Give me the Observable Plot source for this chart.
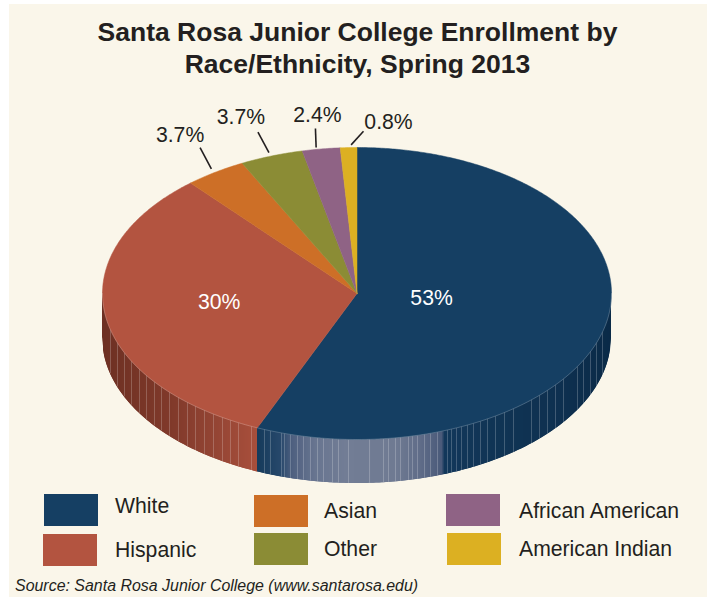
<!DOCTYPE html>
<html>
<head>
<meta charset="utf-8">
<script src="https://cdn.jsdelivr.net/npm/d3@7"></script>
<script src="https://cdn.jsdelivr.net/npm/@observablehq/plot@0.6"></script>
<style>
  html, body { margin: 0; padding: 0; background: #fff; width: 707px; height: 597px; overflow: hidden; }
  #card { position: absolute; left: 9px; top: 4px; width: 698px; height: 593px; background: #faf6ea; }
  #page { position: absolute; left: 0; top: 0; width: 707px; height: 597px; font-family: "Liberation Sans", Arial, sans-serif; color: #231f20; }
  h1 { position: absolute; left: 0; top: 16px; width: 715px; margin: 0; text-align: center; font-size: 26.5px; line-height: 32px; font-weight: bold; }
  #chart { position: absolute; left: 0; top: 85px; }
  #chart svg { display: block; background: transparent; }
  .swatch { position: absolute; width: 54px; height: 32px; }
  .label { position: absolute; font-size: 21.2px; line-height: 24px; white-space: nowrap; }
  #source { position: absolute; left: 15px; top: 576px; font-size: 15.95px; line-height: 20px; font-style: italic; white-space: nowrap; }
</style>
</head>
<body>
<div id="card"></div>
<div id="page">
  <h1>Santa Rosa Junior College Enrollment by<br>Race/Ethnicity, Spring 2013</h1>
  <div id="chart"></div>
  <div id="source">Source: Santa Rosa Junior College (www.santarosa.edu)</div>
</div>
<script>
// ---- data ----
const categories = ["White", "Hispanic", "Asian", "Other", "African American", "American Indian"];
const shareLabels = ["53%", "30%", "3.7%", "3.7%", "2.4%", "0.8%"];
// The slices as they are drawn: share of the full turn, measured on the picture.
const drawnShares = [56.4, 32.25, 3.9, 4.0, 2.4, 1.05];
const colors = ["#153f63", "#b35440", "#cd6f27", "#8b8c35", "#8f6385", "#dcb022"];

// ---- legend layout (left, top of swatch, left, top of text) ----
const legendLayout = [
  [44, 494, 115, 494], [43, 534, 115, 538], [254, 495, 324, 499],
  [254, 533, 324, 537], [446, 494, 519, 499], [447, 533, 519, 537]
];

// ---- style of the extruded wall, by page x ----
const redWallStops = [[102, "#6d3023"], [170, "#80392a"], [220, "#964635"], [258, "#a94f3c"]];
const blueWallStops = [
  [258, "#163b5c"], [280, "#27486b"], [292, "#4f6080"], [315, "#687590"], [345, "#727d95"],
  [395, "#6f7a92"], [420, "#5f6c88"], [441, "#4a5a7a"], [444, "#12375a"], [500, "#103454"], [560, "#0e3050"], [611, "#0a2a47"]
];
const ribsAt = [110, 117, 124, 131, 139, 146, 154, 161, 169, 178, 187, 195, 204, 213, 222, 230, 238, 251,
  264, 270, 281, 284, 290, 297, 303, 310, 317, 323, 332, 338, 348, 369, 383, 388, 395, 400, 408, 412, 417, 424, 430, 437,
  447, 451, 456, 461, 467, 473, 480, 487, 495, 504, 513, 531, 539, 547, 555, 563, 577, 583, 590, 596, 602];

// ---- pie geometry ----
const cx = 356.5, cy = 293, rx = 254.5, ry = 146, depth = 44;
const labelRadius = [0.295, 0.545];
const labelTurn = [-4.8, 2.8];        // degrees off the slice's middle
const leaderGap = [[-3.9, -3.3], [-2.6, -3.3], [-5, -1.5], [2.5, -2.7]];
const leaderRun = [[-11.3, -21.4], [-11, -20.6], [-0.7, -19], [12.4, -13.6]];
const labelShift = [[-20, -12], [-17, -15], [2, -13], [25, -9]];

const px = a => rx * Math.sin(a);
const py = a => -ry * Math.cos(a);
const rad = d => d * Math.PI / 180;

const arcs = d3.pie().sort(null)(drawnShares);

const slices = arcs.flatMap((s, i) => {
  const n = Math.max(2, Math.ceil((s.endAngle - s.startAngle) / rad(0.5)));
  const pts = [{x: 0, y: 0, i}];
  for (let k = 0; k <= n; k++) {
    const a = s.startAngle + (s.endAngle - s.startAngle) * k / n;
    pts.push({x: px(a), y: py(a), i});
  }
  pts.push({x: 0, y: 0, i});
  return pts;
});

const splitX = cx + px(arcs[0].endAngle);
const redRamp = x => wallColor(redWallStops, x);
const blueRamp = x => wallColor(blueWallStops, x);
function wallColor(stops, x) {
  let j = stops.findIndex(s => s[0] >= x);
  if (j <= 0) return stops[j < 0 ? stops.length - 1 : 0][1];
  const [x0, c0] = stops[j - 1], [x1, c1] = stops[j];
  return d3.interpolateRgb(c0, c1)((x - x0) / (x1 - x0));
}
const rimY = u => ry * Math.sqrt(Math.max(0, 1 - (u * u) / (rx * rx)));

// Overlapping two-point strips make up the wall, so that no seams show.
const wall = [];
for (let X = cx - rx, id = 0; X < cx + rx; X += 1, id++) {
  const X2 = Math.min(X + 2, cx + rx);
  const fill = X < splitX ? redRamp(X) : blueRamp(X);
  for (const q of [X, X2]) {
    const u = q - cx;
    wall.push({id, x: u, y1: rimY(u) - 3, y2: rimY(u) + depth, fill});
  }
}
const ribs = ribsAt.map(X => {
  const u = X - cx;
  return {x: u, y1: rimY(u), y2: rimY(u) + depth};
});
const rim = d3.range(90, 270.01, 1).map(d => ({x: px(rad(d)), y: py(rad(d))}));

const big = arcs.slice(0, 2).map((s, i) => {
  const a = (s.startAngle + s.endAngle) / 2 + rad(labelTurn[i]);
  return {x: labelRadius[i] * px(a), y: labelRadius[i] * py(a), text: shareLabels[i]};
});
const small = arcs.slice(2).map((s, i) => {
  const a = (s.startAngle + s.endAngle) / 2;
  const x1 = px(a) + leaderGap[i][0], y1 = py(a) + leaderGap[i][1];
  const x2 = x1 + leaderRun[i][0], y2 = y1 + leaderRun[i][1];
  return {x1, y1, x2, y2, tx: x2 + labelShift[i][0], ty: y2 + labelShift[i][1], text: shareLabels[i + 2]};
});

const chart = Plot.plot({
  width: 707, height: 400,
  margin: 0,
  style: {background: "transparent"},
  x: {domain: [-cx, 707 - cx], range: [0, 707], axis: null},
  y: {domain: [85 - cy, 485 - cy], range: [0, 400], axis: null},
  color: {type: "identity"},
  marks: [
    Plot.areaY(wall, {x: "x", y1: "y1", y2: "y2", z: "id", fill: "fill", curve: "linear"}),
    Plot.ruleX(ribs, {x: "x", y1: "y1", y2: "y2", stroke: "#ffffff", strokeOpacity: 0.27, strokeWidth: 0.8}),
    Plot.line(slices, {x: "x", y: "y", z: "i", curve: "linear",
      fill: d => colors[d.i], stroke: d => colors[d.i], strokeWidth: 0.5}),
    Plot.line(rim, {x: "x", y: "y", curve: "linear", stroke: "#ffffff", strokeOpacity: 0.28, strokeWidth: 0.8}),
    Plot.link(small, {x1: "x1", y1: "y1", x2: "x2", y2: "y2", stroke: "#231f20", strokeWidth: 1.6}),
    Plot.text(small, {x: "tx", y: "ty", text: "text", fontSize: 21.2, fill: "#231f20",
      fontFamily: "Liberation Sans, Arial, sans-serif"}),
    Plot.text(big, {x: "x", y: "y", text: "text", fontSize: 21.2, fill: "#ffffff",
      fontFamily: "Liberation Sans, Arial, sans-serif"})
  ]
});
document.getElementById("chart").appendChild(chart);

const page = document.getElementById("page");
categories.forEach((c, i) => {
  const [sx, sy, tx, ty] = legendLayout[i];
  const sw = document.createElement("div");
  sw.className = "swatch";
  sw.style.cssText = `left:${sx}px;top:${sy}px;background:${colors[i]}`;
  page.appendChild(sw);
  const t = document.createElement("div");
  t.className = "label";
  t.style.cssText = `left:${tx}px;top:${ty}px`;
  t.textContent = c;
  page.appendChild(t);
});
</script>
</body>
</html>
